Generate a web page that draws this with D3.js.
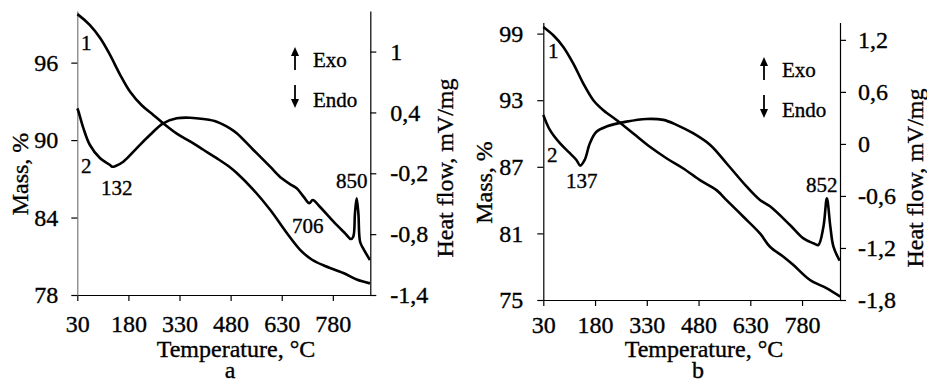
<!DOCTYPE html>
<html>
<head>
<meta charset="utf-8">
<script src="https://cdn.jsdelivr.net/npm/d3@7"></script>
<style>
  body { margin: 0; background: #fff; }
  svg { display: block; }
  text { font-family: "Liberation Serif", "DejaVu Serif", serif; fill: #000; stroke: #000; stroke-width: 0.35px; }
  .tick text { font-size: 24px; }
</style>
</head>
<body>
<svg id="chart" width="927" height="382"></svg>
<script>
// shared ticks
const tempTicks = [30, 180, 330, 480, 630, 780];

// panel a
const massTicksA = [78, 84, 90, 96];
const heatTicksA = [-1.4, -0.8, -0.2, 0.4, 1];
const massTempA = [30, 33, 67, 97, 126, 155, 185, 219, 253, 282, 322, 361, 400, 439, 478, 498, 547, 596, 645, 684, 718, 752, 811, 850, 889];
const massA = [99.75, 99.7, 98.9, 97.9, 96.6, 95.1, 93.75, 92.7, 91.95, 91.3, 90.5, 89.9, 89.25, 88.6, 87.9, 87.45, 86.15, 84.6, 82.8, 81.5, 80.75, 80.3, 79.7, 79.2, 78.9];
const heatTempA = [30, 33, 48, 67, 97, 126, 132, 141, 165, 204, 243, 282, 322, 361, 400, 439, 478, 498, 547, 596, 630, 659, 674, 694, 711, 721, 742, 782, 816, 833, 840, 845, 850, 855, 860, 869, 889];
const heatA = [0.44, 0.414, 0.243, 0.079, -0.052, -0.118, -0.135, -0.13, -0.086, 0.046, 0.177, 0.293, 0.342, 0.348, 0.335, 0.309, 0.243, 0.194, 0.03, -0.135, -0.25, -0.316, -0.348, -0.43, -0.496, -0.463, -0.53, -0.677, -0.792, -0.848, -0.825, -0.595, -0.447, -0.595, -0.875, -0.94, -1.055];

// panel b
const massTicksB = [75, 81, 87, 93, 99];
const heatTicksB = [-1.8, -1.2, -0.6, 0, 0.6, 1.2];
const massTempB = [30, 59, 88, 117, 146, 175, 204, 243, 291, 339, 388, 436, 484, 532, 561, 610, 658, 687, 726, 755, 803, 852, 891];
const massB = [99.6, 98.85, 97.8, 96.3, 94.5, 93.0, 92.1, 91.2, 90.0, 88.8, 87.75, 86.85, 85.8, 84.9, 84.0, 82.5, 81.0, 79.8, 78.9, 78.15, 76.8, 76.05, 75.3];
const heatTempB = [30, 49, 78, 107, 126, 137, 150, 165, 184, 213, 271, 329, 378, 416, 464, 513, 561, 619, 658, 687, 745, 784, 813, 827, 842, 852, 862, 871, 889];
const heatB = [0.335, 0.161, 0.008, -0.107, -0.185, -0.25, -0.185, 0.008, 0.14, 0.2, 0.257, 0.288, 0.277, 0.22, 0.123, -0.01, -0.223, -0.49, -0.646, -0.72, -0.935, -1.09, -1.146, -1.166, -0.954, -0.627, -0.954, -1.185, -1.347];

const peakLabelsA = ["1", "2", "132", "706", "850"];
const peakLabelsB = ["1", "2", "137", "852"];

const svg = d3.select('#chart');
const fmt = d => String(d).replace('.', ',');

function drawPanel(p) {
  const x = d3.scaleLinear().domain([30, 890]).range([p.left, p.right]);
  const yM = d3.scaleLinear().domain(p.massDomain).range([p.bottom, p.top]);
  const yH = d3.scaleLinear().domain(p.heatDomain).range([p.bottom, p.top]);
  const g = svg.append('g');

  const ax = g.append('g').attr('transform', `translate(0,${p.bottom})`)
    .call(d3.axisBottom(x).tickValues(tempTicks).tickSizeOuter(0).tickPadding(p.padB));
  const al = g.append('g').attr('transform', `translate(${p.left},0)`)
    .call(d3.axisLeft(yM).tickValues(p.massTicks).tickFormat(fmt).tickSizeOuter(0).tickPadding(p.padL));
  const ar = g.append('g').attr('transform', `translate(${p.right},0)`)
    .call(d3.axisRight(yH).tickValues(p.heatTicks).tickFormat(fmt).tickSizeOuter(0).tickPadding(p.padR));
  [ax, al, ar].forEach(a => {
    a.attr('font-family', null).attr('font-size', null);
    a.selectAll('line,path').attr('stroke', '#000').attr('stroke-width', 1.2);
  });
  al.select('.domain').attr('stroke', p.leftColor);

  const line = (sx, sy) => d3.line().x(d => sx(d[0])).y(d => sy(d[1])).curve(d3.curveCatmullRom.alpha(0.5));
  g.append('path').datum(d3.zip(p.massT, p.mass))
    .attr('d', line(x, yM)).attr('fill', 'none').attr('stroke', '#000').attr('stroke-width', 2.6);
  g.append('path').datum(d3.zip(p.heatT, p.heat))
    .attr('d', line(x, yH)).attr('fill', 'none').attr('stroke', '#000').attr('stroke-width', 2.6);

  // axis titles
  g.append('text').attr('transform', `translate(${p.massTitle[0]},${p.massTitle[1]}) rotate(-90)`)
    .attr('text-anchor', 'middle').attr('font-size', 24).text('Mass, %');
  g.append('text').attr('transform', `translate(${p.heatTitle[0]},${p.heatTitle[1]}) rotate(-90)`)
    .attr('text-anchor', 'middle').attr('font-size', 24).text('Heat flow, mV/mg');
  g.append('text').attr('x', p.tempTitle[0]).attr('y', p.tempTitle[1])
    .attr('text-anchor', 'middle').attr('font-size', 24).text('Temperature, °C');
  g.append('text').attr('x', p.letter[0]).attr('y', p.letter[1])
    .attr('text-anchor', 'middle').attr('font-size', 24).text(p.name);

  // curve numbers and peak temperatures
  p.labels.forEach((t, i) => {
    g.append('text').attr('x', p.labelPos[i][0]).attr('y', p.labelPos[i][1])
      .attr('font-size', 21).text(t);
  });

  // Exo / Endo legend
  const ex = p.arrow[0], ey = p.arrow[1];
  g.append('line').attr('x1', ex).attr('x2', ex).attr('y1', ey + 8).attr('y2', ey + 23)
    .attr('stroke', '#000').attr('stroke-width', 1.8);
  g.append('path').attr('d', `M${ex},${ey} L${ex - 4},${ey + 9} L${ex + 4},${ey + 9}Z`).attr('fill', '#000');
  const dy = ey + 38;
  g.append('line').attr('x1', ex).attr('x2', ex).attr('y1', dy).attr('y2', dy + 15)
    .attr('stroke', '#000').attr('stroke-width', 1.8);
  g.append('path').attr('d', `M${ex},${dy + 23} L${ex - 4},${dy + 14} L${ex + 4},${dy + 14}Z`).attr('fill', '#000');
  g.append('text').attr('x', ex + 18).attr('y', ey + 20).attr('font-size', 21).text('Exo');
  g.append('text').attr('x', ex + 18).attr('y', ey + 60).attr('font-size', 21).text('Endo');
}

drawPanel({
  name: 'a', left: 77.3, right: 370.3, top: 11, bottom: 295,
  massDomain: [78, 100], heatDomain: [-1.4, 1.4],
  massTicks: massTicksA, heatTicks: heatTicksA,
  massT: massTempA, mass: massA, heatT: heatTempA, heat: heatA,
  padB: 14, padL: 13, padR: 14, leftColor: '#7a7a7a',
  massTitle: [28, 174], heatTitle: [453, 168], tempTitle: [236, 357], letter: [230, 378],
  labels: peakLabelsA,
  labelPos: [[81, 50], [81, 173], [101, 195], [292, 233], [336, 188]],
  arrow: [295, 47]
});

drawPanel({
  name: 'b', left: 543.3, right: 840, top: 22.5, bottom: 300,
  massDomain: [75, 100], heatDomain: [-1.8, 1.4],
  massTicks: massTicksB, heatTicks: heatTicksB,
  massT: massTempB, mass: massB, heatT: heatTempB, heat: heatB,
  padB: 10, padL: 14, padR: 12, leftColor: '#000',
  massTitle: [491.5, 182.5], heatTitle: [923, 178], tempTitle: [704, 357], letter: [698, 378],
  labels: peakLabelsB,
  labelPos: [[548, 58], [547, 162], [566, 188], [806, 192]],
  arrow: [764, 57]
});
</script>
</body>
</html>
